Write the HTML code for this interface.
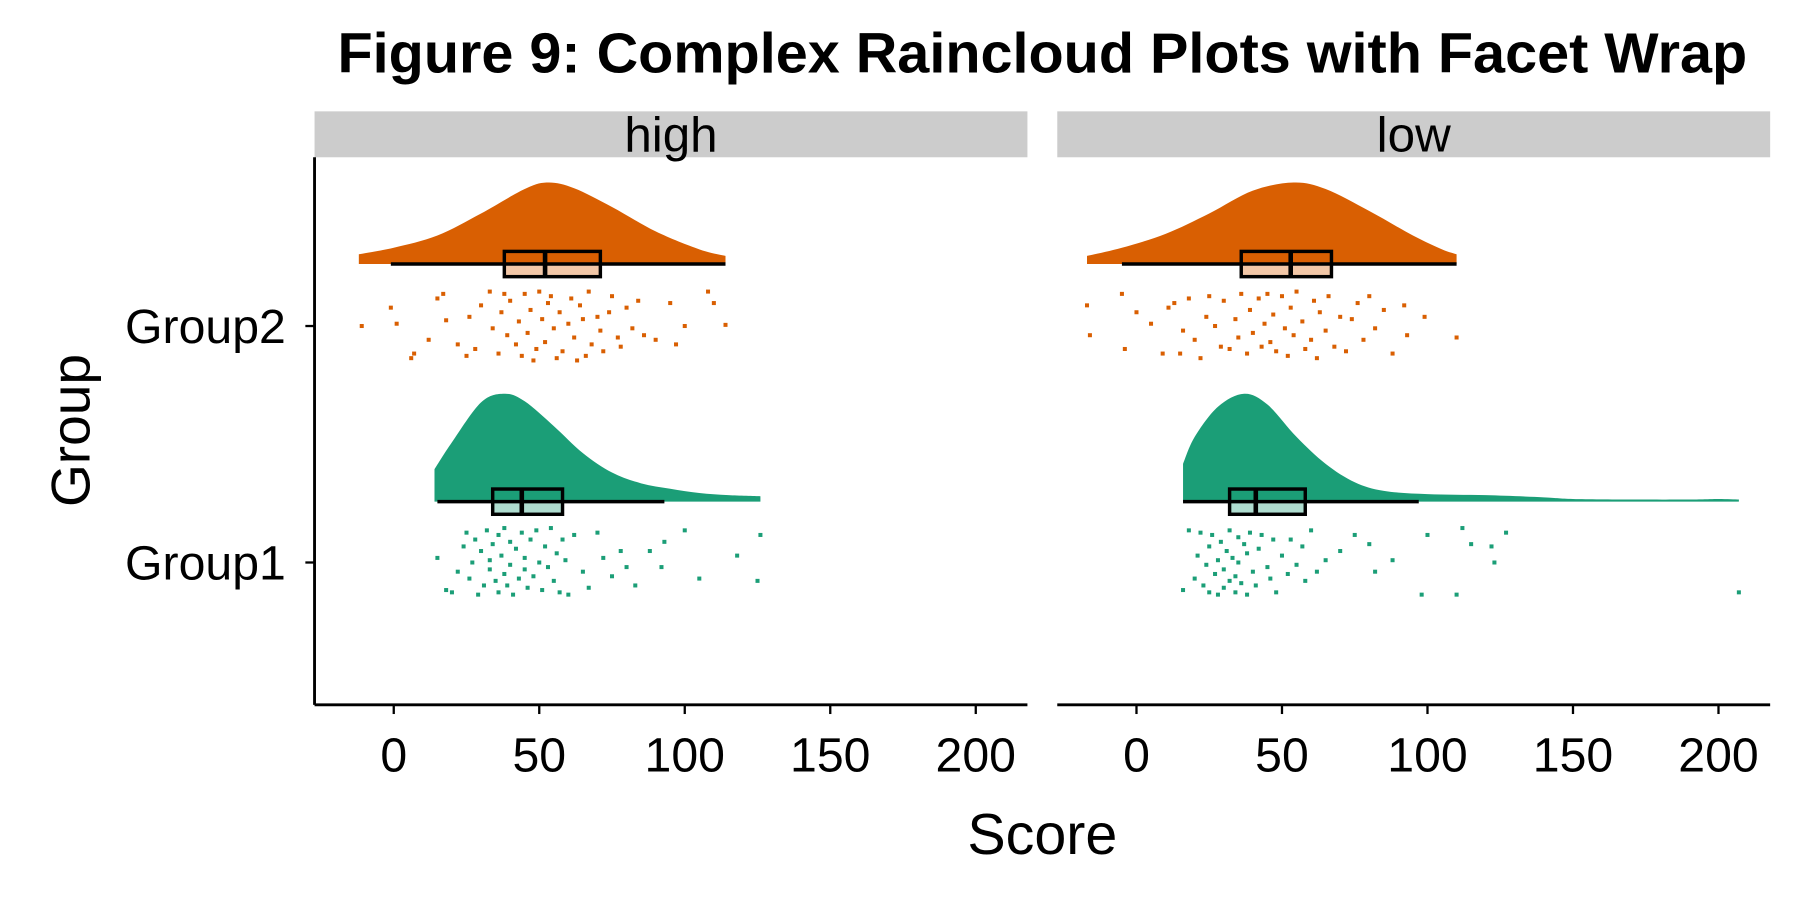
<!DOCTYPE html>
<html><head><meta charset="utf-8"><style>
html,body{margin:0;padding:0;background:#fff;}
svg{display:block;font-family:"Liberation Sans",Arial,sans-serif;}
</style></head><body>
<svg id="chart" width="1800" height="900" viewBox="0 0 1568 784" xmlns="http://www.w3.org/2000/svg">
<rect width="1568" height="784" fill="#fff"/>
<text x="908" y="63" text-anchor="middle" font-size="49" font-weight="bold" textLength="1228" lengthAdjust="spacingAndGlyphs">Figure 9: Complex Raincloud Plots with Facet Wrap</text>
<g id="plot"></g>
<text x="908" y="744" text-anchor="middle" font-size="50">Score</text>
<text transform="translate(78,375) rotate(-90)" text-anchor="middle" font-size="48">Group</text>
</svg>
<script>
const groups = ["Group2","Group1"];
const facets = ["high","low"];
const xTicks = [0,50,100,150,200];
// density curves [facet][group]: x values and relative density
const densX = {
 high:{Group2:[-12,0,15,30,45,53,62,75,90,105,114], Group1:[14,20,30,38,45,55,65,75,85,95,105,115,126]},
 low:{Group2:[-17,-5,10,25,40,54,65,80,95,105,110], Group1:[16,20,28,37,45,55,65,75,85,100,120,140,150,170,190,200,207]}
};
const densY = {
 high:{Group2:[.12,.2,.35,.62,.92,1,.93,.7,.4,.18,.1], Group1:[.3,.55,.92,1,.93,.7,.45,.27,.17,.12,.08,.06,.05]},
 low:{Group2:[.1,.2,.37,.62,.9,1,.92,.65,.35,.18,.12], Group1:[.35,.6,.88,1,.9,.6,.35,.18,.1,.07,.06,.04,.025,.02,.02,.025,.02]}
};
// boxplot stats: [whiskerLow, q1, median, q3, whiskerHigh]
const boxStats = {
 high:{Group2:[-1,38,52,71,114], Group1:[15,34,44,58,93]},
 low:{Group2:[-5,36,53,67,110], Group1:[16,32,41,58,97]}
};
// raw points: values and jitter offsets (px)
const ptsVal = {
 high:{Group2:[-11,-1,1,6,7,12,15,17,18,22,25,26,28,30,33,34,36,37,38,39,40,42,43,44,45,46,47,48,49,50,51,52,53,54,55,56,57,58,60,61,62,63,64,65,66,67,68,70,71,72,74,75,77,78,80,82,84,86,90,95,97,100,108,110,114],
  Group1:[15,18,20,22,24,25,26,27,28,29,30,31,32,33,33,34,35,36,36,37,38,38,39,40,40,41,42,43,44,45,45,46,47,48,49,50,51,52,53,54,55,56,57,58,59,60,62,65,67,70,72,75,78,80,83,88,92,93,100,105,118,125,126]},
 low:{Group2:[-17,-16,-5,-4,0,5,9,11,13,15,16,18,20,22,24,25,27,29,30,32,34,35,36,38,39,40,42,43,44,45,46,47,48,50,51,52,53,54,55,57,58,60,61,62,63,65,66,68,70,72,74,76,78,80,82,85,88,92,93,99,110],
  Group1:[16,18,20,21,22,23,24,25,25,26,27,28,28,29,30,30,31,32,32,33,34,34,35,35,36,37,38,38,39,40,41,42,43,45,46,47,48,50,52,53,55,57,58,60,62,65,70,75,80,82,88,98,100,110,112,115,122,123,127,207]}
};
const ptsJit = {
 high:{Group2:[0,-16,-2,28,24,12,-24,-28,-5,16,26,-8,20,-18,-30,2,24,-12,-28,8,-22,16,-4,26,-28,6,-14,30,20,-30,-6,14,-20,-26,2,28,-12,22,-2,-24,10,30,-18,-6,26,-30,16,-8,4,22,-12,-26,10,18,-16,2,-22,8,12,-20,16,0,-30,-20,-1],
  Group1:[-4,24,26,8,-14,-26,14,0,-20,28,-10,20,-28,6,-2,-16,16,-24,26,-6,10,-30,20,-18,2,28,-12,14,-26,6,-4,22,-20,12,-28,0,24,-14,4,-30,16,-8,26,-20,-2,28,-24,8,22,-26,-4,12,-10,4,20,-10,4,-18,-28,14,-6,16,-24]},
 low:{Group2:[-18,8,-28,20,-12,-2,24,-16,-20,24,4,-24,12,28,-8,-26,0,18,-22,20,-6,10,-28,24,-14,6,-24,18,-2,-28,14,-10,22,-26,2,26,-16,8,-30,-4,20,12,-22,28,-12,4,-26,18,-8,22,-6,-20,12,-26,2,-14,24,-18,8,-8,10],
  Group1:[24,-28,14,-6,-26,20,2,-14,26,-24,10,-2,28,-18,6,22,-10,-28,16,-4,12,26,-22,0,18,-16,28,-8,-26,8,20,-12,-24,4,14,-20,26,-6,10,-20,2,-14,16,-28,8,-2,-10,-24,-16,8,-2,28,-24,28,-30,-16,-14,0,-26,26]}
};

const NS = "http://www.w3.org/2000/svg";
const plot = document.getElementById("plot");
const panels = {high:{x0:274,x1:895,zero:343}, low:{x0:921,x1:1542,zero:990}};
const pxPerUnit = (850-343)/200;
const groupY = {Group2:284, Group1:490};
const baseY = {Group2:230, Group1:437};
const dHeight = {Group2:71, Group1:94};
const colors = {Group2:"#D95F02", Group1:"#1B9E77"};
const yTop=137, yBot=614;

function mk(tag, attrs, parent){
  const e=document.createElementNS(NS,tag);
  for(const k in attrs) e.setAttribute(k,attrs[k]);
  (parent||plot).appendChild(e); return e;
}
function xScale(f,v){return panels[f].zero+v*pxPerUnit;}

function smoothPath(pts){
  let d="M"+pts[0][0]+","+pts[0][1];
  for(let i=0;i<pts.length-1;i++){
    const p0=pts[Math.max(0,i-1)],p1=pts[i],p2=pts[i+1],p3=pts[Math.min(pts.length-1,i+2)];
    const c1=[p1[0]+(p2[0]-p0[0])/6,p1[1]+(p2[1]-p0[1])/6];
    const c2=[p2[0]-(p3[0]-p1[0])/6,p2[1]-(p3[1]-p1[1])/6];
    d+=" C"+c1[0]+","+c1[1]+" "+c2[0]+","+c2[1]+" "+p2[0]+","+p2[1];
  }
  return d;
}

facets.forEach(f=>{
  const P=panels[f];
  const strip=mk("rect",{x:P.x0,y:97,width:P.x1-P.x0,height:40,fill:"#cccccc"});
  
  
  const st=mk("text",{x:(P.x0+P.x1)/2,y:132,"text-anchor":"middle","font-size":43});
  st.textContent=f;
  
  

  groups.forEach(g=>{
    const b=boxStats[f][g], y=baseY[g];
    const bfill=mk("rect",{x:xScale(f,b[1]),y:y-11,width:xScale(f,b[3])-xScale(f,b[1]),height:22,fill:colors[g],"fill-opacity":0.35});
    
    

    const xs=densX[f][g], ys=densY[f][g];
    const pts=xs.map((v,i)=>[xScale(f,v), baseY[g]-ys[i]*dHeight[g]]);
    let d=smoothPath(pts);
    d+=" L"+xScale(f,xs[xs.length-1])+","+baseY[g]+" L"+xScale(f,xs[0])+","+baseY[g]+" Z";
    const cloud=mk("path",{d:d,fill:colors[g]});
    
    

    const wh=mk("line",{x1:xScale(f,b[0]),x2:xScale(f,b[4]),y1:y,y2:y,stroke:"#000","stroke-width":3});
    
    
    const bx=mk("rect",{x:xScale(f,b[1]),y:y-11,width:xScale(f,b[3])-xScale(f,b[1]),height:22,fill:"none",stroke:"#000","stroke-width":3});
    
    
    const md=mk("line",{x1:xScale(f,b[2]),x2:xScale(f,b[2]),y1:y-11,y2:y+11,stroke:"#000","stroke-width":4});
    
    

    const vals=ptsVal[f][g], jit=ptsJit[f][g];
    vals.forEach((v,i)=>{
      const r=mk("rect",{x:xScale(f,v)-1.75,y:groupY[g]+(jit[i]||0)-1.75,width:3.5,height:3.5,fill:colors[g]});
      
      
    });
  });

  const ax=mk("line",{x1:P.x0,x2:P.x1,y1:yBot,y2:yBot,stroke:"#000","stroke-width":2.5});
  
  
  xTicks.forEach(t=>{
    const X=xScale(f,t);
    const tk=mk("line",{x1:X,x2:X,y1:yBot,y2:yBot+8,stroke:"#000","stroke-width":2});
    
    
    const tl=mk("text",{x:X,y:672,"text-anchor":"middle","font-size":42,fill:"#000"});
    tl.textContent=t;
    
    
  });
});

const yax=mk("line",{x1:274,x2:274,y1:yTop,y2:yBot,stroke:"#000","stroke-width":2.5});


groups.forEach(g=>{
  const tk=mk("line",{x1:266,x2:274,y1:groupY[g],y2:groupY[g],stroke:"#000","stroke-width":2});
  
  
  const tl=mk("text",{x:249,y:groupY[g]+15,"text-anchor":"end","font-size":42});
  tl.textContent=g;
  
  
});
</script>
</body></html>
